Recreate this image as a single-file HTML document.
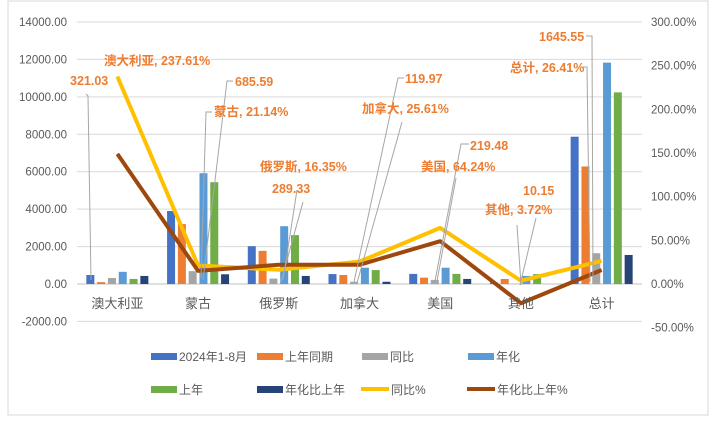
<!DOCTYPE html>
<html><head><meta charset="utf-8">
<style>
html,body{margin:0;padding:0;background:#fff;}
svg{display:block;font-family:"Liberation Sans","Noto Sans CJK SC",sans-serif;}
</style></head>
<body>
<svg id="chart" width="711" height="423" viewBox="0 0 711 423">
<rect x="8" y="1" width="700" height="414" fill="#fff" stroke="#d9d9d9"/>
<g id="grid"></g>
<g id="bars"></g>
<g id="lines"></g>
<g id="axes"></g>
<g id="labels" font-weight="bold" fill="#ed7d31" font-size="12.5">
  <g stroke="#a6a6a6" fill="none" stroke-width="1">
    <polyline points="86,94 88,96 91,280"/>
    <polyline points="233,81 227,81 203,280"/>
    <polyline points="212,112 206,112 201,278"/>
    <polyline points="297,190 283,280"/>
    <polyline points="303,202 281,282"/>
    <polyline points="404,78 398,78 354,282"/>
    <polyline points="402,122 357,283"/>
    <polyline points="469,144 461,144 435,281"/>
    <polyline points="456,178 437,281"/>
    <polyline points="536,218 520,285"/>
    <polyline points="517,225 521,285"/>
    <polyline points="586,36 592,36 593,282"/>
    <polyline points="581,67 587,67 590,282"/>
  </g>
  <text x="104" y="65">澳大利亚, 237.61%</text>
  <text x="70" y="85">321.03</text>
  <text x="235" y="86">685.59</text>
  <text x="214" y="116">蒙古, 21.14%</text>
  <text x="260" y="171">俄罗斯, 16.35%</text>
  <text x="272" y="193">289.33</text>
  <text x="405" y="83">119.97</text>
  <text x="362" y="113">加拿大, 25.61%</text>
  <text x="470" y="150">219.48</text>
  <text x="421" y="171">美国, 64.24%</text>
  <text x="523" y="195">10.15</text>
  <text x="485" y="214">其他, 3.72%</text>
  <text x="539" y="41">1645.55</text>
  <text x="510" y="72">总计, 26.41%</text>
</g>
<g id="legend" font-size="12" fill="#595959">
  <rect x="151" y="353" width="26" height="7" fill="#4472c4"/>
  <text x="179" y="361">2024年1-8月</text>
  <rect x="257" y="353" width="26" height="7" fill="#ed7d31"/>
  <text x="285" y="361">上年同期</text>
  <rect x="362" y="353" width="26" height="7" fill="#a5a5a5"/>
  <text x="390" y="361">同比</text>
  <rect x="468" y="353" width="26" height="7" fill="#5b9bd5"/>
  <text x="496" y="361">年化</text>
  <rect x="151" y="386" width="26" height="7" fill="#70ad47"/>
  <text x="179" y="394">上年</text>
  <rect x="257" y="386" width="26" height="7" fill="#264478"/>
  <text x="285" y="394">年化比上年</text>
  <line x1="361" y1="389" x2="389" y2="389" stroke="#ffc000" stroke-width="4"/>
  <text x="391" y="394">同比%</text>
  <line x1="467" y1="389" x2="495" y2="389" stroke="#9e480e" stroke-width="4"/>
  <text x="497" y="394">年化比上年%</text>
</g>
</svg>
<script>
const categories = ["澳大利亚","蒙古","俄罗斯","加拿大","美国","其他","总计"];
const s2024 = [480, 3900, 2020, 530, 540, 80, 7870];
const sLastSame = [100, 3200, 1770, 480, 340, 270, 6280];
const sYoy = [321.03, 685.59, 289.33, 119.97, 219.48, 10.15, 1645.55];
const sAnnual = [650, 5920, 3090, 870, 870, 430, 11830];
const sLastYear = [270, 5440, 2610, 745, 540, 530, 10240];
const sAnnualDiff = [430, 520, 430, 120, 270, 0, 1550];
const yoyPct = [237.61, 21.14, 16.35, 25.61, 64.24, 3.72, 26.41];
const annualPct = [149, 15, 22, 22, 49, -22, 16];
const leftTicks = [-2000,0,2000,4000,6000,8000,10000,12000,14000];
const rightTicks = [-50,0,50,100,150,200,250,300];

const NS="http://www.w3.org/2000/svg";
const x0=77, x1=642, yTop=22, yZero=284;
const catW=(x1-x0)/categories.length;
function yL(v){return yZero-(v/14000)*(yZero-yTop);}
function yR(p){return yZero-(p/300)*(yZero-yTop);}
function cx(i){return x0+catW*(i+0.5);}
function mk(tag,attrs,parent){const e=document.createElementNS(NS,tag);for(const k in attrs)e.setAttribute(k,attrs[k]);parent.appendChild(e);return e;}

const grid=document.getElementById('grid'), axes=document.getElementById('axes');
leftTicks.forEach(t=>{
  const g=mk('line',{x1:x0,x2:x1,y1:yL(t),y2:yL(t),stroke:t===0?'#bfbfbf':'#d9d9d9','stroke-width':1},grid);
  
  
  const tx=mk('text',{x:67,y:yL(t)+4,'text-anchor':'end','font-size':'11.5',fill:'#595959'},axes);
  tx.textContent=t.toFixed(2);
  
  
});
rightTicks.forEach(t=>{
  const tx=mk('text',{x:651,y:yR(t)+4,'font-size':'11.5',fill:'#595959'},axes);
  tx.textContent=t.toFixed(2)+'%';
  
  
});
categories.forEach((c,i)=>{
  const tx=mk('text',{x:cx(i),y:308,'text-anchor':'middle','font-size':'13',fill:'#595959'},axes);
  tx.textContent=c;
  
  
});
const series=[[s2024,'#4472c4','bar-2024'],[sLastSame,'#ed7d31','bar-last-year-same'],[sYoy,'#a5a5a5','bar-yoy'],[sAnnual,'#5b9bd5','bar-annualized'],[sLastYear,'#70ad47','bar-last-year'],[sAnnualDiff,'#264478','bar-annualized-vs-last']];
const bars=document.getElementById('bars');
const pitch=10.8, bw=8;
series.forEach((s,k)=>{
  s[0].forEach((v,i)=>{
    const x=cx(i)-3*pitch+k*pitch+(pitch-bw)/2;
    const y=Math.min(yL(v),yZero), h=Math.abs(yL(v)-yZero);
    const r=mk('rect',{x:x,y:y,width:bw,height:h,fill:s[1]},bars);
    
    
  });
});
const lines=document.getElementById('lines');
[[yoyPct,'#ffc000','line-yoy-pct'],[annualPct,'#9e480e','line-annualized-pct']].forEach(l=>{
  const pts=l[0].map((p,i)=>cx(i)+','+yR(p)).join(' ');
  const pl=mk('polyline',{points:pts,fill:'none',stroke:l[1],'stroke-width':4,'stroke-linejoin':'round'},lines);
  
  
});
</script>
</body></html>
